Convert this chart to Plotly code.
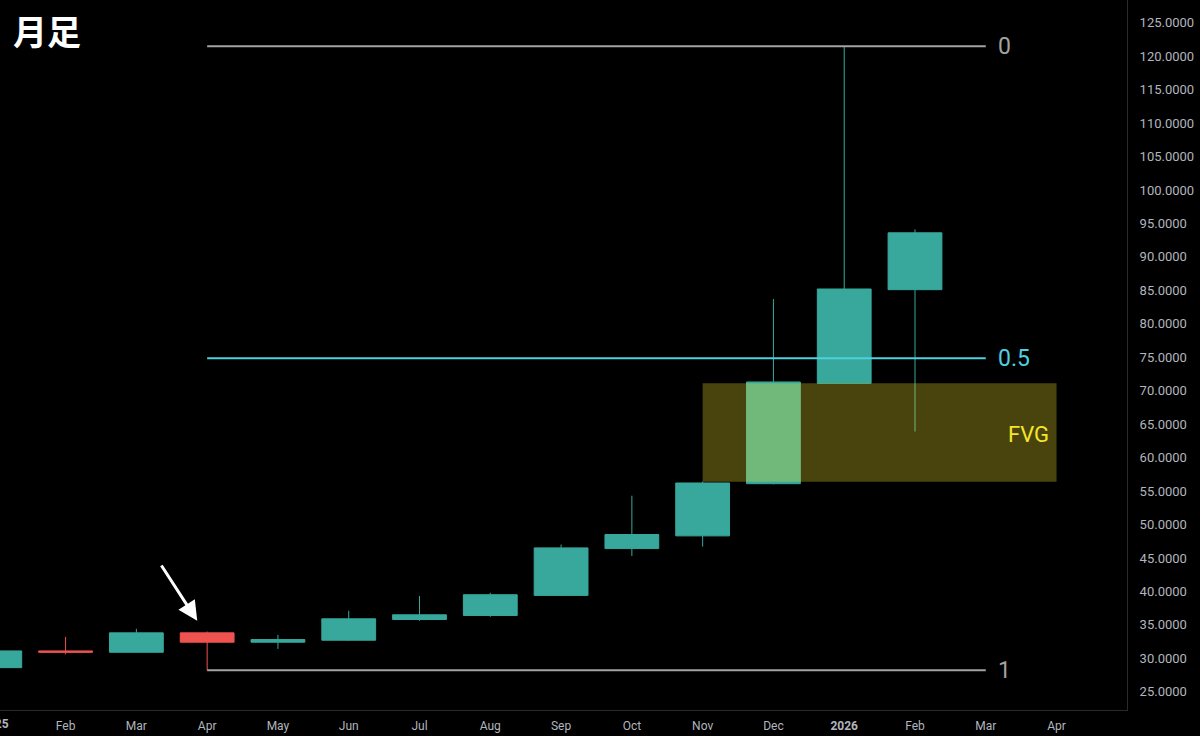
import plotly.graph_objects as go

# ---- data (monthly candles, Jan 2025 .. Feb 2026) ----
months = ["2025", "Feb", "Mar", "Apr", "May", "Jun", "Jul", "Aug", "Sep",
          "Oct", "Nov", "Dec", "<b>2026</b>", "Feb", "Mar", "Apr"]
opens  = [28.6, 31.1, 30.9, 33.8, 32.4, 32.7, 35.8, 36.4, 39.4, 46.4, 48.3, 56.1, 71.1, 85.1]
highs  = [31.6, 33.2, 34.4, 34.0, 33.5, 37.1, 39.3, 39.8, 47.0, 54.3, 56.4, 83.7, 121.5, 94.1]
lows   = [28.4, 30.6, 30.9, 28.2, 31.4, 32.6, 35.6, 36.2, 39.3, 45.3, 46.7, 56.0, 71.1, 63.9]
closes = [31.1, 30.9, 33.8, 32.4, 32.8, 35.9, 36.5, 39.5, 46.5, 48.5, 56.2, 71.3, 85.2, 93.6]

fib_levels = [0, 0.5, 1]
fib_labels = ["0", "0.5", "1"]
fib_colors = ["#a3a3a3", "#4dd0e1", "#a3a3a3"]
swing_high_idx = 12   # Jan 2026
swing_low_idx = 3     # Apr 2025
fib_end_idx = 14      # Mar 2026
fvg_start_idx = 10    # Nov 2025
fvg_end_idx = 15      # Apr 2026
y_ticks = list(range(25, 130, 5))

idx = list(range(len(opens)))
UP = "#38a89d"
DOWN = "#ef5350"

fig = go.Figure()
fig.add_trace(go.Candlestick(
    x=idx, open=opens, high=highs, low=lows, close=closes,
    increasing=dict(line=dict(color=UP, width=1), fillcolor=UP),
    decreasing=dict(line=dict(color=DOWN, width=1), fillcolor=DOWN),
    whiskerwidth=0, showlegend=False, hoverinfo="skip",
))

hi = highs[swing_high_idx]
lo = lows[swing_low_idx]
shapes = []
annotations = []

# FVG box
fvg_top = lows[12]
fvg_bot = highs[10]
shapes.append(dict(type="rect", xref="x", yref="y", x0=fvg_start_idx, x1=fvg_end_idx,
                   y0=fvg_bot, y1=fvg_top, fillcolor="#f2e12a", opacity=0.3,
                   line=dict(width=0), layer="above"))
annotations.append(dict(x=fvg_end_idx, y=(fvg_top + fvg_bot) / 2, xref="x", yref="y",
                        text="FVG", showarrow=False, xanchor="right", xshift=-6, yshift=-2,
                        font=dict(color="#f5e52b", size=22, family="Roboto")))

for lv, lab, col in zip(fib_levels, fib_labels, fib_colors):
    yv = hi - (hi - lo) * lv
    shapes.append(dict(type="line", xref="x", yref="y", x0=swing_low_idx, x1=fib_end_idx,
                       y0=yv, y1=yv, line=dict(color=col, width=2), layer="above"))
    annotations.append(dict(x=fib_end_idx, y=yv, xref="x", yref="y", text=lab,
                            showarrow=False, xanchor="left", xshift=10, yshift=0,
                            font=dict(color=col, size=23, family="Roboto")))

# arrow pointing at the April candle
annotations.append(dict(x=2.86, y=35.6, ax=2.34, ay=44.1, xref="x", yref="y",
                        axref="x", ayref="y", text="", showarrow=True,
                        arrowhead=2, arrowsize=1.3, arrowwidth=3, arrowcolor="#ffffff"))

# title
annotations.append(dict(x=0.01, y=0.995, xref="paper", yref="paper", text="<b>月足</b>",
                        showarrow=False, xanchor="left", yanchor="top",
                        font=dict(color="#ffffff", size=34, family="Noto Sans CJK JP")))

# clipped first month label
annotations.append(dict(x=-5.2 / 1127, y=0.0, xref="paper", yref="paper",
                        text="<b>2025</b>", showarrow=False, xanchor="center", yanchor="top",
                        yshift=-5, font=dict(color="#b2b5be", size=12, family="Roboto")))

fig.update_layout(
    width=1200, height=736,
    margin=dict(l=0, r=73, t=0, b=26),
    paper_bgcolor="#000000", plot_bgcolor="#000000",
    shapes=shapes, annotations=annotations,
    boxgap=0.24, boxgroupgap=0,
    font=dict(family="Roboto", color="#b2b5be", size=12),
    xaxis=dict(range=[0.0735, 15.995], tickmode="array", tickvals=list(range(len(months))),
               ticktext=months, showgrid=False, zeroline=False, rangeslider=dict(visible=False),
               showline=True, linecolor="#2a2a2a", linewidth=1, ticks="",
               tickfont=dict(color="#b2b5be", size=12), ticklabelstandoff=5),
    yaxis=dict(side="right", range=[22.27, 128.4], tickmode="array", tickvals=y_ticks,
               tickformat=".4f", showgrid=False, zeroline=False,
               showline=True, linecolor="#2a2a2a", linewidth=1, ticks="",
               tickfont=dict(color="#b2b5be", size=13), ticklabelstandoff=9),
)

fig.write_html("out.html", config={"displayModeBar": False},
               post_script="document.body.style.margin='0';document.body.style.background='#000';")
